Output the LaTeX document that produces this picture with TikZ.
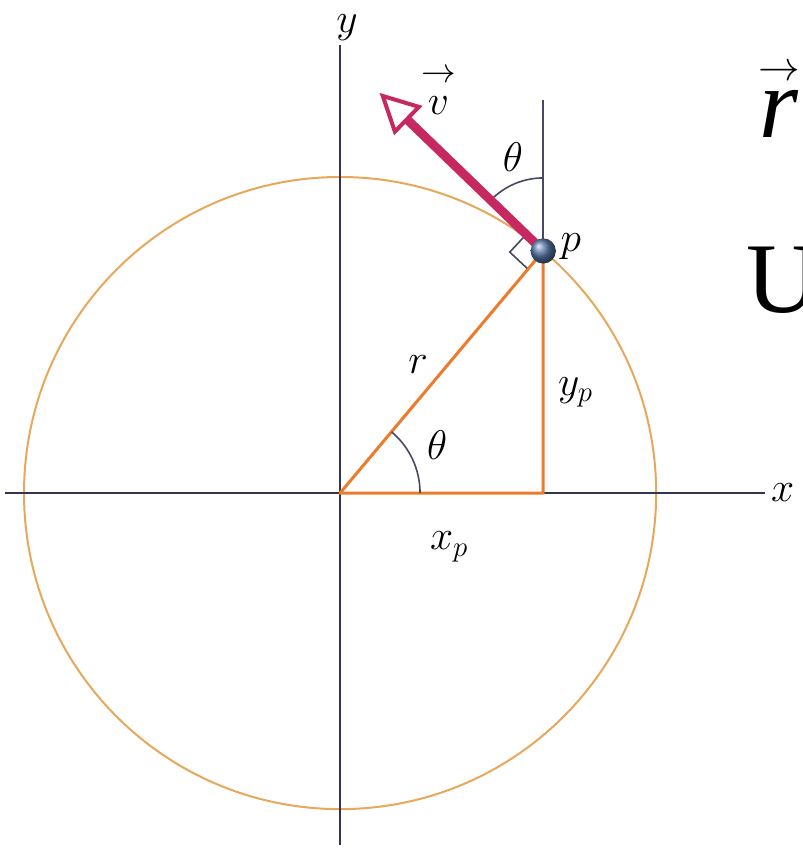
\documentclass[tikz,border=0pt]{standalone}
\usepackage{amsmath}
\usepackage{fontspec}
\setmainfont{Liberation Serif}
\usepackage{tikz}
\usetikzlibrary{arrows.meta}
\definecolor{axisC}{RGB}{52, 52, 82}
\definecolor{circC}{RGB}{232, 168, 92}
\definecolor{triC}{RGB}{236, 124, 44}
\definecolor{velC}{RGB}{200, 40, 96}
\definecolor{ballC}{RGB}{88, 120, 170}

% letter with a detached arrow above it
\newcommand{\vecmark}[3]{\vbox{\offinterlineskip\halign{\hfil##\hfil\cr #1\cr\noalign{\kern#2}#3\cr}}}

\tikzset{
  axis/.style={axisC, line width=1.2pt},
  circ/.style={circC, line width=1pt},
  tri/.style={triC, line width=1.5pt, line join=round},
  guide/.style={axisC!90, line width=0.8pt},
  vel/.style={velC, line width=4.5pt, -{Triangle[open, length=20pt, width=20pt, line width=2pt]}},
  lbl/.style={inner sep=0pt}
}

\begin{document}
\begin{tikzpicture}[x=158pt, y=158pt, font=\fontsize{22}{26}\selectfont]
  \useasboundingbox (-1.076,-1.142) rectangle (1.462,1.560);
  \coordinate (O) at (0,0);
  \coordinate (P) at (50:1);
  \coordinate (Px) at (P |- O);
  \coordinate (Ptop) at ([shift={(0,0.478)}]P);
  \coordinate (Vtip) at ([shift={(136:0.72)}]P);
  \coordinate (xl) at (-1.06,0); \coordinate (xr) at (1.345,0);
  \coordinate (yb) at (0,-1.114); \coordinate (yt) at (0,1.418);
  % circle and axes
  \draw[circ] (O) circle (1);
  \draw[axis] (xl) -- (xr);
  \draw[axis] (yb) -- (yt);
  % triangle
  \draw[tri] (O) -- (P) -- (Px) -- cycle;
  \draw[guide] (P) -- (Ptop);
  \draw[guide] (0.253,0) arc (0:50:0.253);
  \draw[guide] (P) ++(90:0.231) arc (90:136:0.231);
  \draw[guide] (P) ++(137:0.075) -- ++(227:0.075) -- ++(317:0.075);
  % velocity and particle
  \draw[vel] (P) -- (Vtip);
  \shade[ball color=ballC] (P) circle (0.04);
  % labels
  \node[lbl] (ylab) at (0.022,1.472) {$y$};
  \node[lbl] (xlab) at (1.400,0) {$x$};
  \node[lbl] (rlab) at (0.247,0.405) {$r$};
  \node[lbl] (thlow) at (0.307,0.152) {$\theta$};
  \node[lbl] (yplab) at (0.745,0.318) {$y_p$};
  \node[lbl] (xplab) at (0.345,-0.170) {$x_p$};
  \node[lbl] (plab) at (0.730,0.780) {$p$};
  \node[lbl] (thup) at (0.547,1.063) {$\theta$};
  \node[lbl, anchor=south] (vlab) at (0.311,1.196) {\vecmark{\fontsize{17}{17}\selectfont$\rightarrow$}{7pt}{$v$}};
  \node[lbl, anchor=south] (rvec) at (1.389,1.123) {\vecmark{\fontsize{20}{20}\selectfont$\rightarrow$}{5pt}{\fontsize{50}{60}\selectfont\itshape r}};
  \node[lbl, font=\fontsize{50}{60}\selectfont] (Ulab) at (1.400,0.674) {U};
\end{tikzpicture}
\end{document}
